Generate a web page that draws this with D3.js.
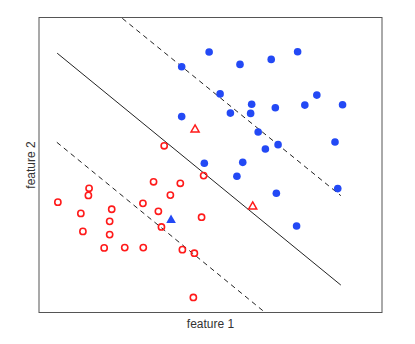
<!DOCTYPE html>
<html><head><meta charset="utf-8">
<script src="https://cdn.jsdelivr.net/npm/d3@7"></script>
<style>body{margin:0;background:#fff}svg{display:block}</style>
</head><body>
<script>
// Class A (blue, filled circles)
const blueX = [4.16,4.96,5.86,6.77,7.54,5.28,6.20,5.58,6.17,6.89,7.75,8.10,8.85,4.16,6.39,6.97,6.60,8.63,4.82,5.94,5.77,6.92,8.71,7.51];
const blueY = [8.33,8.83,8.41,8.58,8.84,7.41,7.06,6.76,6.75,6.94,7.03,7.37,7.04,6.64,6.12,5.69,5.54,5.78,5.06,5.09,4.62,4.04,4.20,2.93];
// Class B (red, open circles)
const redX = [3.65,3.34,4.12,1.46,1.44,3.83,0.55,3.03,2.12,1.22,3.48,2.06,3.57,1.28,2.06,1.90,2.50,3.04,4.18,4.53,4.50,4.80,4.74];
const redY = [5.65,4.43,4.38,4.21,3.97,3.98,3.74,3.70,3.50,3.36,3.43,3.09,2.90,2.75,2.64,2.19,2.20,2.20,2.13,2.01,0.51,4.64,3.23];
// Misclassified / support points (triangles)
const blueTriX = [3.85], blueTriY = [3.13];
const redTriX = [4.55,6.23], redTriY = [6.20,3.59];
// Decision boundary and margins: [x1,y1,x2,y2]
const boundary = [0.53,8.79,8.80,0.93];
const marginUpper = [2.43,9.97,8.80,3.96];
const marginLower = [0.52,5.77,6.56,0.03];
const xLabel = "feature 1", yLabel = "feature 2";

const W = 415, H = 344;
const L = 39, R = 382, T = 17.5, B = 312.5;
const svg = d3.select("body").append("svg").attr("width", W).attr("height", H);
const x = d3.scaleLinear().domain([0,10]).range([L,R]);
const y = d3.scaleLinear().domain([0,10]).range([B,T]);
const blue = "#2349f5", red = "#ff1a1a";

function seg(a, dash){
  svg.append("line").attr("x1",x(a[0])).attr("y1",y(a[1])).attr("x2",x(a[2])).attr("y2",y(a[3]))
    .attr("stroke","#222").attr("stroke-width",1).attr("stroke-dasharray",dash?"5,4":null);
}
seg(boundary,false); seg(marginUpper,true); seg(marginLower,true);

svg.append("g").selectAll("circle").data(d3.range(blueX.length)).join("circle")
  .attr("cx",i=>x(blueX[i])).attr("cy",i=>y(blueY[i])).attr("r",3.8).attr("fill",blue);
svg.append("g").selectAll("circle").data(d3.range(redX.length)).join("circle")
  .attr("cx",i=>x(redX[i])).attr("cy",i=>y(redY[i])).attr("r",3.1).attr("fill","none")
  .attr("stroke",red).attr("stroke-width",1.6);
const tri = d3.symbol().type(d3.symbolTriangle);
svg.append("g").selectAll("path").data(d3.range(blueTriX.length)).join("path")
  .attr("d",tri.size(40)()).attr("transform",i=>`translate(${x(blueTriX[i])},${y(blueTriY[i])})`).attr("fill",blue);
svg.append("g").selectAll("path").data(d3.range(redTriX.length)).join("path")
  .attr("d",d3.symbol().type(d3.symbolTriangle).size(28)()).attr("transform",i=>`translate(${x(redTriX[i])},${y(redTriY[i])})`)
  .attr("fill","none").attr("stroke",red).attr("stroke-width",1.5);

svg.append("rect").attr("x",L).attr("y",T).attr("width",R-L).attr("height",B-T)
  .attr("fill","none").attr("stroke","#555").attr("stroke-width",1);

svg.append("text").attr("x",(L+R)/2).attr("y",328).attr("text-anchor","middle")
  .attr("font-family","Liberation Sans, Arial, sans-serif").attr("font-size",12).attr("fill","#333").text(xLabel);
svg.append("text").attr("transform",`translate(35,${(T+B)/2}) rotate(-90)`).attr("text-anchor","middle")
  .attr("font-family","Liberation Sans, Arial, sans-serif").attr("font-size",12).attr("fill","#333").text(yLabel);
</script>
</body></html>
